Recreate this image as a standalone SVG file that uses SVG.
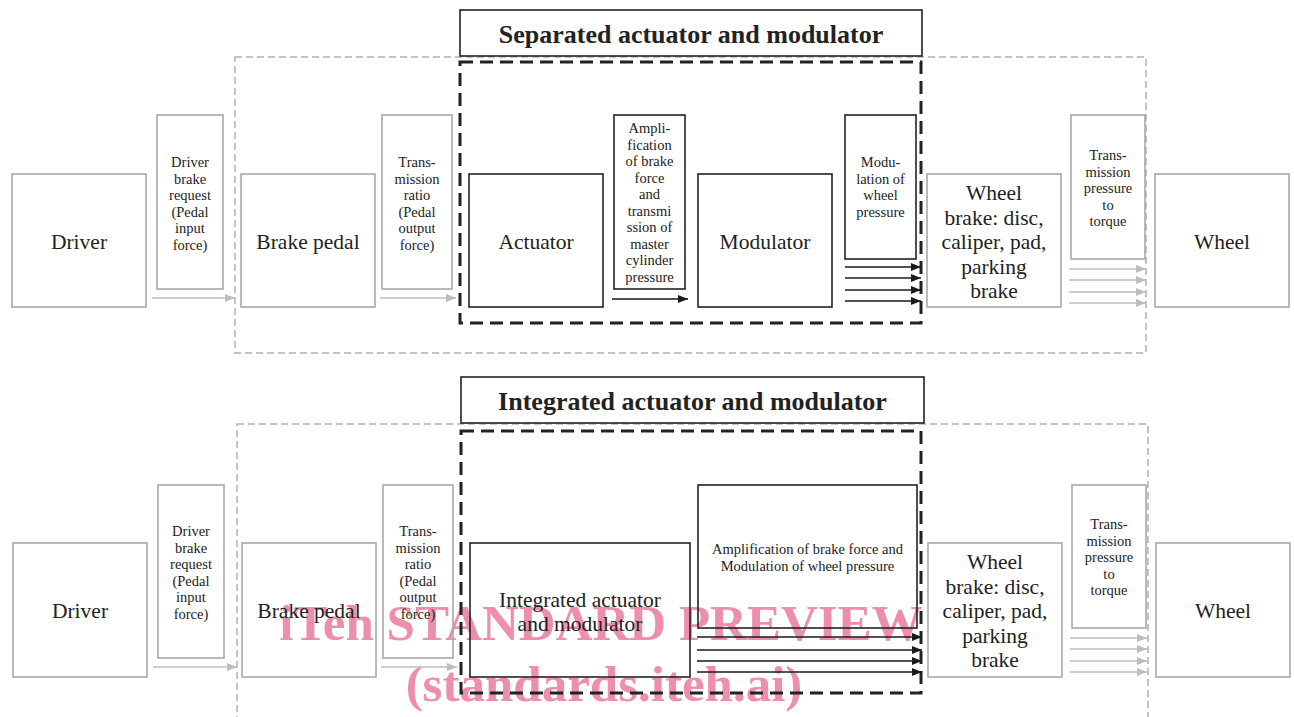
<svg xmlns="http://www.w3.org/2000/svg" width="1294" height="717" viewBox="0 0 1294 717">
  <defs>
    <marker id="ah-gray" viewBox="0 0 10 8" refX="10" refY="4" markerWidth="10" markerHeight="8" markerUnits="userSpaceOnUse" orient="auto">
      <path d="M0,0 L10,4 L0,8 z" fill="#bdbdbd"/>
    </marker>
    <marker id="ah-black" viewBox="0 0 10 8" refX="10" refY="4" markerWidth="10" markerHeight="8" markerUnits="userSpaceOnUse" orient="auto">
      <path d="M0,0 L10,4 L0,8 z" fill="#1a1a1a"/>
    </marker>
  </defs>
  <style>
    text { font-family: "Liberation Serif", "Times New Roman", serif; fill: #222; text-anchor: middle; }
    .big { font-size: 21.5px; }
    .small { font-size: 14.5px; }
    .title { font-size: 26px; font-weight: bold; }
    .gbox { fill: none; stroke: #a8a8a8; stroke-width: 1.6; }
    .kbox { fill: none; stroke: #222; stroke-width: 1.6; }
    .gdash { fill: none; stroke: #b0b0b0; stroke-width: 1.5; stroke-dasharray: 7 4; }
    .kdash { fill: none; stroke: #222; stroke-width: 3; stroke-dasharray: 13 7; }
    .garrow { stroke: #bdbdbd; stroke-width: 1.6; fill: none; marker-end: url(#ah-gray); }
    .karrow { stroke: #1a1a1a; stroke-width: 1.6; fill: none; marker-end: url(#ah-black); }
    .wm { font-family: "Liberation Serif", "Times New Roman", serif; font-weight: bold; font-size: 51px; fill: #ea7c9d; opacity: 0.85; text-anchor: middle; }
  </style>
  <rect x="0" y="0" width="1294" height="717" fill="#ffffff"/>

  <!-- publisher watermark, beneath the line art -->
  <g id="watermark">
    <text class="wm" x="601" y="640">iTeh STANDARD PREVIEW</text>
    <text class="wm" x="604" y="701">(standards.iteh.ai)</text>
  </g>

  <!-- ===== Upper variant: separated actuator and modulator ===== -->
  <g id="frame-top">
    <rect class="gdash" x="235" y="57" width="911" height="296"/>
    <rect class="kdash" x="460" y="62" width="461" height="261"/>
  </g>
  <g id="title-top">
    <rect class="kbox" x="460" y="10" width="462" height="46"/>
    <text class="title" x="691" y="43">Separated actuator and modulator</text>
  </g>
  <g id="driver-top">
    <rect class="gbox" x="12" y="174" width="134" height="133"/>
    <text class="big" x="79" y="249">Driver</text>
  </g>
  <g id="request-top">
    <rect class="gbox" x="157" y="115" width="66" height="174"/>
    <text class="small" x="190" y="167">Driver</text>
    <text class="small" x="190" y="183.5">brake</text>
    <text class="small" x="190" y="200">request</text>
    <text class="small" x="190" y="216.5">(Pedal</text>
    <text class="small" x="190" y="233">input</text>
    <text class="small" x="190" y="249.5">force)</text>
  </g>
  <g id="pedal-top">
    <rect class="gbox" x="241" y="174" width="134" height="133"/>
    <text class="big" x="308" y="249">Brake pedal</text>
  </g>
  <g id="ratio-top">
    <rect class="gbox" x="382" y="115" width="70" height="174"/>
    <text class="small" x="417" y="167">Trans-</text>
    <text class="small" x="417" y="183.5">mission</text>
    <text class="small" x="417" y="200">ratio</text>
    <text class="small" x="417" y="216.5">(Pedal</text>
    <text class="small" x="417" y="233">output</text>
    <text class="small" x="417" y="249.5">force)</text>
  </g>
  <g id="actuator-top">
    <rect class="kbox" x="469" y="174" width="134" height="133"/>
    <text class="big" x="536" y="249">Actuator</text>
  </g>
  <g id="amplification-top">
    <rect class="kbox" x="614" y="115" width="71" height="174"/>
    <text class="small" x="649.5" y="133">Ampli-</text>
    <text class="small" x="649.5" y="149.5">fication</text>
    <text class="small" x="649.5" y="166">of brake</text>
    <text class="small" x="649.5" y="182.5">force</text>
    <text class="small" x="649.5" y="199">and</text>
    <text class="small" x="649.5" y="215.5">transmi</text>
    <text class="small" x="649.5" y="232">ssion of</text>
    <text class="small" x="649.5" y="248.5">master</text>
    <text class="small" x="649.5" y="265">cylinder</text>
    <text class="small" x="649.5" y="281.5">pressure</text>
  </g>
  <g id="modulator-top">
    <rect class="kbox" x="698" y="174" width="134" height="133"/>
    <text class="big" x="765" y="249">Modulator</text>
  </g>
  <g id="modulation-top">
    <rect class="kbox" x="845" y="115" width="71" height="144"/>
    <text class="small" x="880.5" y="167">Modu-</text>
    <text class="small" x="880.5" y="183.5">lation of</text>
    <text class="small" x="880.5" y="200">wheel</text>
    <text class="small" x="880.5" y="216.5">pressure</text>
  </g>
  <g id="wheelbrake-top">
    <rect class="gbox" x="927" y="174" width="134" height="133"/>
    <text class="big" x="994" y="200">Wheel</text>
    <text class="big" x="994" y="224.5">brake: disc,</text>
    <text class="big" x="994" y="249">caliper, pad,</text>
    <text class="big" x="994" y="273.5">parking</text>
    <text class="big" x="994" y="298">brake</text>
  </g>
  <g id="torque-top">
    <rect class="gbox" x="1071" y="115" width="74" height="144"/>
    <text class="small" x="1108" y="160">Trans-</text>
    <text class="small" x="1108" y="176.5">mission</text>
    <text class="small" x="1108" y="193">pressure</text>
    <text class="small" x="1108" y="209.5">to</text>
    <text class="small" x="1108" y="226">torque</text>
  </g>
  <g id="wheel-top">
    <rect class="gbox" x="1155" y="174" width="134" height="133"/>
    <text class="big" x="1222" y="249">Wheel</text>
  </g>

  <!-- ===== Lower variant: integrated actuator and modulator ===== -->
  <g id="frame-bottom">
    <rect class="gdash" x="237" y="424" width="911" height="300"/>
    <rect class="kdash" x="461" y="431" width="460" height="262"/>
  </g>
  <g id="title-bottom">
    <rect class="kbox" x="461" y="377" width="463" height="46"/>
    <text class="title" x="692.5" y="410">Integrated actuator and modulator</text>
  </g>
  <g id="driver-bottom">
    <rect class="gbox" x="13" y="543" width="134" height="134"/>
    <text class="big" x="80" y="618">Driver</text>
  </g>
  <g id="request-bottom">
    <rect class="gbox" x="158" y="485" width="66" height="173"/>
    <text class="small" x="191" y="536">Driver</text>
    <text class="small" x="191" y="552.5">brake</text>
    <text class="small" x="191" y="569">request</text>
    <text class="small" x="191" y="585.5">(Pedal</text>
    <text class="small" x="191" y="602">input</text>
    <text class="small" x="191" y="618.5">force)</text>
  </g>
  <g id="pedal-bottom">
    <rect class="gbox" x="242" y="543" width="134" height="134"/>
    <text class="big" x="309" y="618">Brake pedal</text>
  </g>
  <g id="ratio-bottom">
    <rect class="gbox" x="383" y="485" width="70" height="173"/>
    <text class="small" x="418" y="536">Trans-</text>
    <text class="small" x="418" y="552.5">mission</text>
    <text class="small" x="418" y="569">ratio</text>
    <text class="small" x="418" y="585.5">(Pedal</text>
    <text class="small" x="418" y="602">output</text>
    <text class="small" x="418" y="618.5">force)</text>
  </g>
  <g id="integrated-bottom">
    <rect class="kbox" x="470" y="543" width="220" height="134"/>
    <text class="big" x="580" y="607">Integrated actuator</text>
    <text class="big" x="580" y="631">and modulator</text>
  </g>
  <g id="amplification-bottom">
    <rect class="kbox" x="698" y="485" width="219" height="143"/>
    <text class="small" x="807.5" y="554">Amplification of brake force and</text>
    <text class="small" x="807.5" y="571">Modulation of wheel pressure</text>
  </g>
  <g id="wheelbrake-bottom">
    <rect class="gbox" x="928" y="543" width="134" height="134"/>
    <text class="big" x="995" y="569">Wheel</text>
    <text class="big" x="995" y="593.5">brake: disc,</text>
    <text class="big" x="995" y="618">caliper, pad,</text>
    <text class="big" x="995" y="642.5">parking</text>
    <text class="big" x="995" y="667">brake</text>
  </g>
  <g id="torque-bottom">
    <rect class="gbox" x="1072" y="485" width="74" height="143"/>
    <text class="small" x="1109" y="529">Trans-</text>
    <text class="small" x="1109" y="545.5">mission</text>
    <text class="small" x="1109" y="562">pressure</text>
    <text class="small" x="1109" y="578.5">to</text>
    <text class="small" x="1109" y="595">torque</text>
  </g>
  <g id="wheel-bottom">
    <rect class="gbox" x="1156" y="543" width="134" height="134"/>
    <text class="big" x="1223" y="618">Wheel</text>
  </g>

  <!-- connectors -->
  <g id="connectors">
    <!-- upper variant -->
    <line class="garrow" x1="152" y1="298" x2="235" y2="298"/>
    <line class="garrow" x1="380" y1="298" x2="456" y2="298"/>
    <line class="karrow" x1="612" y1="299" x2="688" y2="299"/>
    <line class="karrow" x1="845" y1="267" x2="921" y2="267"/>
    <line class="karrow" x1="845" y1="278" x2="921" y2="278"/>
    <line class="karrow" x1="845" y1="290" x2="921" y2="290"/>
    <line class="karrow" x1="845" y1="301" x2="921" y2="301"/>
    <line class="garrow" x1="1069" y1="269" x2="1146" y2="269"/>
    <line class="garrow" x1="1069" y1="280" x2="1146" y2="280"/>
    <line class="garrow" x1="1069" y1="292" x2="1146" y2="292"/>
    <line class="garrow" x1="1069" y1="303" x2="1146" y2="303"/>
    <!-- lower variant -->
    <line class="garrow" x1="153" y1="667" x2="237" y2="667"/>
    <line class="garrow" x1="381" y1="667" x2="457" y2="667"/>
    <line class="karrow" x1="697" y1="637" x2="922" y2="637"/>
    <line class="karrow" x1="697" y1="650" x2="922" y2="650"/>
    <line class="karrow" x1="697" y1="661" x2="922" y2="661"/>
    <line class="karrow" x1="697" y1="672" x2="922" y2="672"/>
    <line class="garrow" x1="1070" y1="638" x2="1147" y2="638"/>
    <line class="garrow" x1="1070" y1="649" x2="1147" y2="649"/>
    <line class="garrow" x1="1070" y1="661" x2="1147" y2="661"/>
    <line class="garrow" x1="1070" y1="672" x2="1147" y2="672"/>
  </g>
</svg>
